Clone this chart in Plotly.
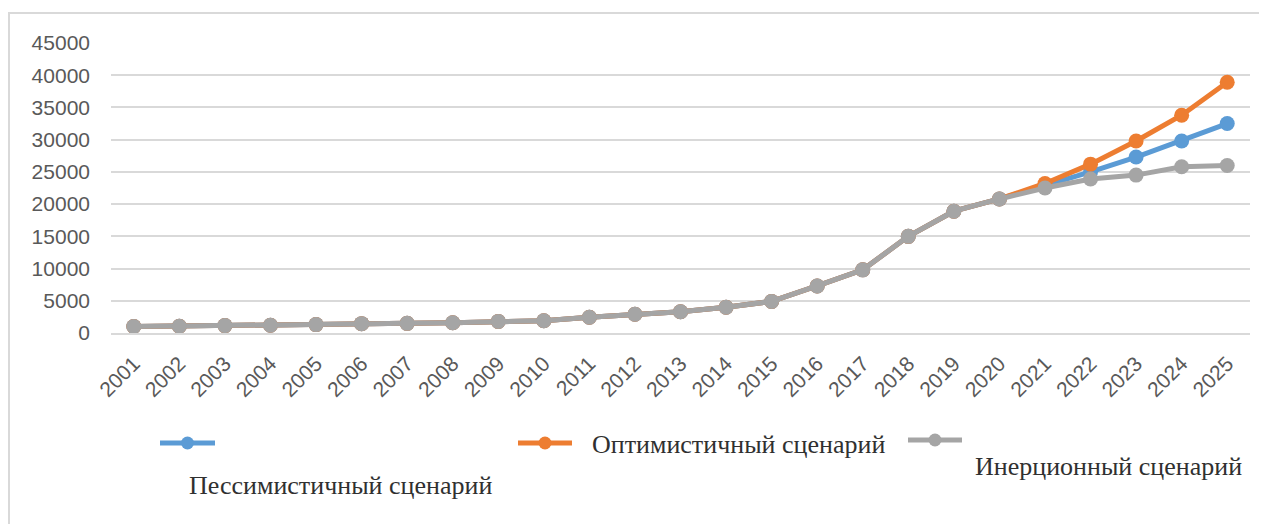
import plotly.graph_objects as go

years = [str(y) for y in range(2001, 2026)]
inertial = [1000, 1050, 1150, 1200, 1300, 1450, 1500, 1600, 1800, 1900, 2450, 2900, 3300,
            4000, 4900, 7300, 9800, 15000, 18900, 20800, 22500, 23900, 24500, 25800, 26000]
pessimistic = inertial[:20] + [22800, 25000, 27300, 29800, 32500]
optimistic = inertial[:20] + [23200, 26200, 29800, 33800, 38900]

names = ["Пессимистичный сценарий", "Оптимистичный сценарий", "Инерционный сценарий"]
colors = ["#5B9BD5", "#ED7D31", "#A5A5A5"]
series = [pessimistic, optimistic, inertial]
y_ticks = list(range(0, 45001, 5000))

# page has an 8px body margin; work in page pixels and convert
OFF = 8
W, H = 1267 - 2 * OFF, 532 - 2 * OFF
L, R, T, B = 111, 1250, 43, 333  # page pixel coordinates of plot area

fig = go.Figure()
for name, vals, c in zip(names, series, colors):
    fig.add_trace(go.Scatter(x=years, y=vals, mode="lines+markers", name=name,
                             line=dict(color=c, width=5),
                             marker=dict(color=c, size=15), showlegend=False))

def px(x):
    return (x - L) / (R - L)

def py(y):
    return (B - y) / (B - T)

shapes = []
annotations = []
# outer frame
shapes.append(dict(type="rect", xref="paper", yref="paper",
                   x0=px(9), x1=px(1290), y0=py(560), y1=py(13),
                   line=dict(color="#D9D9D9", width=2), layer="below"))

# manual legend
legend_items = [
    (160, 215, 443, 187, 485),
    (518, 572, 443, 590, 445),
    (908, 962, 440, 973, 466),
]
for (x0, x1, yl, tx, ty), name, c in zip(legend_items, names, colors):
    shapes.append(dict(type="line", xref="paper", yref="paper",
                       x0=px(x0), x1=px(x1), y0=py(yl), y1=py(yl),
                       line=dict(color=c, width=5)))
    xm = (x0 + x1) / 2
    r = 6.5
    shapes.append(dict(type="circle", xref="paper", yref="paper",
                       x0=px(xm - r), x1=px(xm + r), y0=py(yl + r), y1=py(yl - r),
                       fillcolor=c, line=dict(color=c, width=0)))
    annotations.append(dict(text=name, xref="paper", yref="paper",
                            x=px(tx), y=py(ty), xanchor="left", yanchor="middle",
                            showarrow=False,
                            font=dict(family="Liberation Serif", size=26, color="#303030")))

fig.update_layout(
    width=W, height=H,
    margin=dict(l=L - OFF, r=W + OFF - R, t=T - OFF, b=H + OFF - B, pad=0),
    paper_bgcolor="white", plot_bgcolor="white",
    font=dict(family="Liberation Sans", size=21, color="#595959"),
    xaxis=dict(type="category", tickangle=-45, showgrid=False, showline=True,
               linecolor="#D9D9D9", linewidth=2, ticks="", range=[-0.5, 24.5],
               ticklabelstandoff=8,
               tickfont=dict(size=21, color="#595959")),
    yaxis=dict(range=[0, 45000], tickvals=y_ticks, ticktext=[str(v) for v in y_ticks],
               showgrid=True, gridcolor="#D9D9D9", gridwidth=2, zeroline=False,
               ticks="", ticklabelstandoff=20,
               tickfont=dict(size=21, color="#595959")),
    shapes=shapes, annotations=annotations,
)

fig.write_html("out.html")
